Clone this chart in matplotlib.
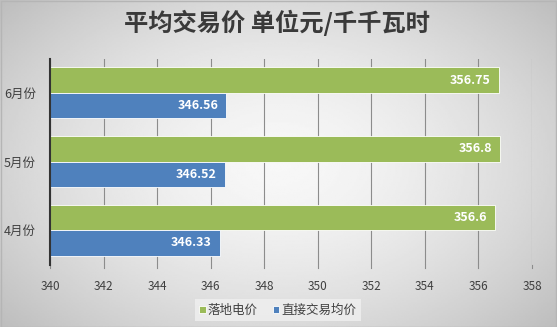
import numpy as np
import matplotlib.pyplot as plt

plt.rcParams['font.family'] = ['Noto Sans CJK SC', 'DejaVu Sans']

months = ["4月份", "5月份", "6月份"]
landing_price = [356.6, 356.8, 356.75]      # 落地电价
direct_price = [346.33, 346.52, 346.56]     # 直接交易均价
x_ticks = [340, 342, 344, 346, 348, 350, 352, 354, 356, 358]

green = "#9BBB59"
blue = "#4F81BD"

fig = plt.figure(figsize=(5.57, 3.27), dpi=100)

# soft grey gradient behind the whole chart, lighter toward the middle
bg = fig.add_axes([0, 0, 1, 1], zorder=-10)
yy, xx = np.mgrid[-1:1:200j, -1:1:300j]
r = np.sqrt((xx * 0.9) ** 2 + (yy * 0.8) ** 2)
bg.imshow(0.97 - 0.17 * np.clip(r, 0, 1.2) ** 1.6, cmap="gray", vmin=0, vmax=1,
          aspect="auto", extent=[0, 1, 0, 1])
bg.set_axis_off()
bg.add_patch(plt.Rectangle((0.001, 0.001), 0.998, 0.995, fill=False,
                           edgecolor="#b5b5b5", lw=1))

ax = fig.add_axes([50 / 557, 1 - 264.5 / 327, 482 / 557, 206 / 327])
ax.patch.set_alpha(0)

y = np.arange(len(months))
h = 0.37
g_bars = ax.barh(y + h / 2, np.array(landing_price) - 340, left=340, height=h,
                 color=green, edgecolor="white", lw=0.6, zorder=3, label="落地电价")
b_bars = ax.barh(y - h / 2, np.array(direct_price) - 340, left=340, height=h,
                 color=blue, edgecolor="white", lw=0.6, zorder=3, label="直接交易均价")

for bars, vals in ((g_bars, landing_price), (b_bars, direct_price)):
    for bar, v in zip(bars, vals):
        ax.text(v - 0.28, bar.get_y() + bar.get_height() / 2, f"{v:g}",
                ha="right", va="center", color="white", fontsize=9,
                fontweight="bold", zorder=4)

ax.set_xlim(340, 358)
ax.set_ylim(-0.5, 2.5)
ax.set_xticks(x_ticks)
ax.set_yticks(y)
ax.set_yticklabels(months)
ax.grid(axis="x", color="#8c8c8c", lw=0.8, zorder=0)
ax.tick_params(axis="x", length=0, pad=11, labelsize=8.5, labelcolor="#404040")
ax.tick_params(axis="y", length=0, pad=10, labelsize=9, labelcolor="#404040")
for s in ("top", "right", "bottom"):
    ax.spines[s].set_visible(False)
ax.spines["left"].set_color("#333333")
ax.spines["left"].set_linewidth(1.5)
ax.spines["left"].set_zorder(5)

# gridlines poke below the plot area like tick marks
for xt in x_ticks:
    ax.plot([xt, xt], [-0.5, -0.55], color="#8c8c8c", lw=0.8, clip_on=False)

fig.text(0.497, 0.93, "平均交易价 单位元/千千瓦时", ha="center", va="center",
         fontsize=17.5, fontweight="bold", color="#3a3a3a")

leg = ax.legend(loc="center", bbox_to_anchor=(228 / 482, -45.5 / 206), ncol=2,
                fontsize=9, frameon=True, handlelength=0.5, handleheight=0.5,
                handletextpad=0.2, columnspacing=1.2, borderpad=0.35)
leg.get_frame().set_facecolor("#f0f0f0")
leg.get_frame().set_edgecolor("none")
leg.get_frame().set_boxstyle("square", pad=0)
for t in leg.get_texts():
    t.set_color("#404040")

fig.savefig("out.png", dpi=100)
